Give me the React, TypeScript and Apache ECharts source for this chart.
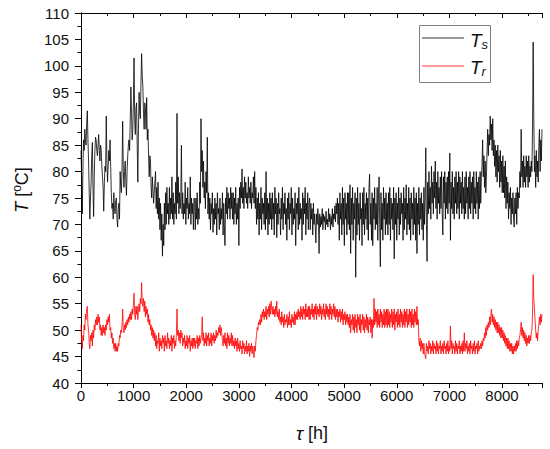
import React, { useEffect, useRef } from "react";
import * as echarts from "echarts";

// Hourly curves at a 12 h spacing (t = index * 12 h).
const STEP_H = 12;

// Supply temperature Ts, one array per month
const tsJan = [84,79,72,80,86,84,88,86,85,89,91.5,86,82,76,71,75,78,83,85.5,77,71.5,79,84,86.5,86,84,83,85,87,84,82,85,84,81,79,77,72.5,78,81,80,90.5,82,78,81,84,82,86,81,76,73,74,71,76,73,72,74.5,75,71,69.5,73,74,71];
const tsFeb = [80,77,76,81,89.5,80,77,80,82,78,75.5,80,83,85,86,84,84,96,91,86,88,93,101.5,90,87,92,93,85,78,88,95,91,90,97,102.3,98,96,91,88,93,92,88,94,86,88,83,79,83,82,77,75,79,79,74,74,78];
const tsMar = [80,73,77,72,78,71,75,69,74,67,72,64,70,66,74,69,76,70,77,72,74,70,77,71,75,72,79,71,76,70,74,72,78,71,91,74,79,72,76,73,75,85,72,76,71,74,72,78,70,75,73,77,71,74,72,79,70,75,72,74,69,75];
const tsApr = [74,69,75,71,76,70,73,71,78,74,90,80,84,77,82,75,78,73,80,76,86.5,72,76,71,75,69,74,72,76,68.5,73,70,75,71,74,68,76,72,73,69,75,70,73,71,76,68,74,70,66,75,72,77,71,76,73,75,71,77,73,76];
const tsMay = [71,76,70,75,72,77,70,74,71,75,66,77,73,78,75,80.5,74,77,73,79,75,78,74,76,73,79,75,77,74,78,73,76,75,79,74,80,73,77,70,75,71,76,68,74,71,77,69,75,72,74,70,76,69,80,71,75,68,74,70,76,71,75];
const tsJun = [69,76,71,74,68,77,72,75,67.5,74,70,76,72,73,68,75,71,77,69,74,72,76,70,73,67,75,71,76,69,74,72,77,68,75,70,73,71,76,66,74,72,75,69,77,70,74,71,73,67,76,70,75,72,77,68,74,71,76,69,74];
const tsJul = [75,69,74,71,73,68,74,70,72,69.5,66.5,72,70,73,71,64.5,72,69.5,71.5,70,73,69,72,70.5,71.5,69,72.5,70,71,69.5,73,70.5,72,69,71.5,70,73,69.5,72,71,73.5,70.5,74,72,75,70,74,67,76,71,74,68,77,70,75,66,76,71,74,68,76,70];
const tsAug = [76,69,77.5,64.5,75,70,77,67,74,71,76,60,75,68,77,70,74,67,76,71,73,66,76,70,77,68,74,71,76,69,75,67,77,79.5,70,74,67,76,66,75,71,77,69,74,70,77,67,75,79,70,62,76,69,74,67,77,71,75,68,76,70,74];
const tsSep = [68,76,70,77,67,75,71,74,69,77,63.5,75,70,76,67,74,71,77,68,75,70,76,72,74,67,77,69,75,71,77.5,68,74,70,77,69,75,67,76,71,74,68,77,70,75,67,76,64.5,74,70,77,68,75,71,76,69,74,67,77,70,75];
const tsOct = [84.5,70,63,78,72,80,73,77,71,81,74,78,72,80,75,82,73,78,71,80,74,77,72,79,73,80,72,68,79,74,80,71,78,73,79,72,80,74,83.5,67,78,73,80,72,77,71,79,74,80,72,78,73,80,71,79,74,78,72,80,73,77,71];
const tsNov = [79,72,80,74,77,71,79,73,80,72,78,74,79,71,80,73,77,72,80,74,78,71,79,73,80,74,79,81,86,79,83,77,82,76,79,84,88,83,87,85,90.5,86,89,84,90,83,86,81,85,79,84,78,85,80,83,77,84,78,82,76];
const tsDec = [83,76,81,75,82,73,79,74,78,71,76,73,77,70,75,72,76,71,69.5,75,72,76,70,77,73,76,75,80,77,88,79,82,77,83,78,81,77,83,79,82,77,83,78,81,79,82,80,88,104.5,90,80,83,77,84,79,82,78,85,88,80,86,82,88];

// Return temperature Tr, one array per month
const trJan = [51,48,46.5,49,48,51,50,53,52,54,54.5,51,50,47.5,46.5,49,48,49.5,47,50,48.5,51,50,52,51,52.5,51,53,51.5,52.5,50,51,49,50.5,49,51,49.5,50.5,49,51,50,52,51,52.5,51.5,53,50,50.5,48.5,49.5,47.5,48.5,46.5,47.5,46,47.5,46,47,46,47.5,47,49];
const trFeb = [48.5,50,49.5,51,54,50,49.5,51,50,51.5,50.5,52,51,52.5,51.5,53,52,53.5,52,54,53,55,57,53,52,54.5,53,54.5,52,54,55,53.5,56,55,59,55,54.5,56,53.5,55.5,52.5,54.5,53,54,51.5,53,51,52,50,51,49,50.5,48.5,50,48,49.5];
const trMar = [47,49,46.5,48,47.5,49.5,46,48.5,47,48,46.5,49,47.5,48.5,46,49,47,48,46.5,49.5,47.5,48.5,46.5,48,47,49,46,48.5,47.5,49,46.5,48,47,49,54,49,50,48,49.5,47.5,50,48.5,49.5,47,48.5,47.5,49,46.5,48,47,49,46.5,48.5,47.5,49,46,48,47,48.5,46.5,48.5,47];
const trApr = [48.5,46.5,48,47.5,49,46.5,48.5,47,49,47.5,48.5,49,52.5,48,49.5,47,48.5,47.5,49.5,47,49,48,49.5,47,48.5,47.5,49.5,47,49,48,49.5,47.5,49,48,50,48.5,49.5,49,50.5,49.5,51,49,50.5,49.5,48,47,49,47.5,49.5,47,48.5,46.5,49.5,47.5,49,47,48.5,47.5,49.5,47];
const trMay = [49,47,48,46.5,48.5,47,48,46,48.5,46.5,47.5,46,48,46.5,47,45.5,48,46.5,47.5,45.5,47,46,48,45.5,47,46,47.5,45,47,46,47.5,45.5,47,46,44.8,47,46,48,49,50.5,50,51.5,51,52,51,53,51.5,53.5,52.5,54,52,53.5,52.5,54.5,52,54,53,54.5,52.5,55,53,55.5];
const trJun = [55.5,53,54.5,53,54,52.5,54.5,53,55.5,52.5,53.5,52,54,51.5,52.5,51,53.5,51.5,52.5,50.5,53,51,52,51.5,53,50.5,52.5,51,53.5,51,52,50.5,53,51.5,52.5,51,53.5,51,53,52,53.5,52,54,52.5,53.5,52,54.5,52.5,54,52,54.5,53,54,52,55,52.5,54,52.5,54.5,52];
const trJul = [54.5,52,54,53,55,52.5,54,52,54.5,53,55,52,54.5,53,54,52.5,55,53,54.5,52,54,53,55,52.5,54,52,55,53,54.5,52.5,54,52,55,53,54.5,52,54,53,55,52.5,54.5,52,54,52.5,54,51.5,53.5,52.5,54,51.5,53.5,52,54,51,53,52,53.5,51,53,51.5,53,51];
const trAug = [52.5,50.5,53,49.5,52,51,53,50,52.5,49.5,53,50.5,52,49.5,53,51,52.5,50,53,49.5,52,51,53,50,52.5,49.5,52,50.5,53,50,52.5,49.5,52,51,52.5,49.5,52,48.5,52,50.5,56,51,54,51.5,53.5,50.5,54,51,53,50.5,54,51.5,53.5,50.5,53,51,54,50.5,53.5,51,54,50.5];
const trSep = [54,51,53.5,50.5,53,51.5,54,50.5,53.5,51,54,50,53,51.5,53.5,50.5,54,51,53,50.5,54,51.5,53.5,50.5,53,51,54,50.5,53.5,51.5,54,50.5,53,51,54,51.5,53.5,50.5,54,51,53,50.5,54,51.5,53.5,51,54.5,51,52,48,47,48.5,46,48,46.5,47.5,45.5,47.5,46,45];
const trOct = [44.6,47.5,46,47,45.5,48,46.5,47.5,45.5,47,46,48,45.5,47.5,46.5,47,45.5,48,46,47.5,45.5,47,46.5,48,45.5,47,46,47.5,45.5,48,46.5,47,45.5,47.5,46,48,45.5,47,46,50.8,46.5,48,45.5,47.5,46.5,47,45.5,48,46,47.5,45.5,47,46.5,48,45.5,47,46,47.5,45.5,48,46,49.5];
const trNov = [46,47.5,46.5,48,45.5,47,46,47.5,45.5,48,46.5,47,45.5,47.5,46,48,45.5,47,46.5,47.5,45.5,48,46,47,46.5,47.5,46.5,48,47,48.5,48,49.5,48.5,50.5,49,51,50,51.5,50.5,52.5,51,53,54,51.5,53,51,52.5,50.5,52,50,51.5,49.5,51.5,49.5,51,49,50.5,48.5,50.5,48.5];
const trDec = [50,48,49.5,47.5,49,47,48.5,46.5,48.5,46.5,48,46,47.5,46,47.5,45.5,47,45.5,47,46,47.5,46,48,46.5,48,47,48.5,49,50,51.5,49,50.5,48.5,50,48,49.5,47.5,49,47,48.5,47.5,49,47.5,49,48,49.5,50,53,60.5,56,54,52,50,48.5,49.5,48,50,51,52.5,51,53,51.5,53];

const X_MIN = 0;
const X_MAX = 8760;
const X_INTERVAL = 1000;
const Y_MIN = 40;
const Y_MAX = 110;
const Y_INTERVAL = 5;

const FONT = "'Liberation Sans', Arial, Helvetica, sans-serif";

function toPairs(months: number[][]): number[][] {
  const all: number[] = ([] as number[]).concat(...months);
  return all.map((v, i) => [i * STEP_H, v]);
}

export default function App() {
  const ref = useRef<HTMLDivElement>(null);

  useEffect(() => {
    document.body.style.margin = "0";
    if (!ref.current) return;
    const chart = echarts.init(ref.current, null, { renderer: "svg" });

    const tsData = toPairs([tsJan, tsFeb, tsMar, tsApr, tsMay, tsJun, tsJul, tsAug, tsSep, tsOct, tsNov, tsDec]);
    const trData = toPairs([trJan, trFeb, trMar, trApr, trMay, trJun, trJul, trAug, trSep, trOct, trNov, trDec]);

    const axisLine = { show: true, lineStyle: { color: "#000", width: 1 } };
    const tickStyle = { color: "#000", width: 1 };
    const plain = (v: number) => String(v);

    chart.setOption({
      animation: false,
      backgroundColor: "#fff",
      grid: { left: 81, top: 13, right: 8, bottom: 66, containLabel: false },
      xAxis: [
        {
          type: "value",
          position: "bottom",
          min: X_MIN,
          max: X_MAX,
          interval: X_INTERVAL,
          axisLine,
          axisTick: { show: true, inside: false, length: 5, lineStyle: tickStyle },
          minorTick: { show: true, splitNumber: 2, length: 3, lineStyle: tickStyle },
          axisLabel: { fontSize: 15, color: "#111", margin: 5, fontFamily: FONT, showMaxLabel: false, formatter: plain },
          splitLine: { show: false },
        },
        {
          type: "value",
          position: "top",
          min: X_MIN,
          max: X_MAX,
          interval: X_INTERVAL,
          axisLine,
          axisTick: { show: true, inside: true, length: 5, lineStyle: tickStyle },
          minorTick: { show: true, splitNumber: 2, length: 3, lineStyle: tickStyle },
          axisLabel: { show: false },
          splitLine: { show: false },
        },
      ],
      yAxis: [
        {
          type: "value",
          position: "left",
          min: Y_MIN,
          max: Y_MAX,
          interval: Y_INTERVAL,
          axisLine,
          axisTick: { show: true, inside: false, length: 6, lineStyle: tickStyle },
          minorTick: { show: true, splitNumber: 2, length: 3.5, lineStyle: tickStyle },
          axisLabel: { fontSize: 15, color: "#111", margin: 12, fontFamily: FONT, formatter: plain },
          splitLine: { show: false },
        },
        {
          type: "value",
          position: "right",
          min: Y_MIN,
          max: Y_MAX,
          interval: Y_INTERVAL,
          axisLine,
          axisTick: { show: true, inside: true, length: 5, lineStyle: tickStyle },
          minorTick: { show: true, splitNumber: 2, length: 3, lineStyle: tickStyle },
          axisLabel: { show: false },
          splitLine: { show: false },
        },
      ],
      series: [
        {
          name: "Ts",
          type: "line",
          xAxisIndex: 0,
          yAxisIndex: 0,
          data: tsData,
          showSymbol: false,
          symbol: "none",
          lineStyle: { color: "#000", width: 0.8 },
          itemStyle: { color: "#000" },
          z: 2,
        },
        {
          name: "Tr",
          type: "line",
          xAxisIndex: 0,
          yAxisIndex: 0,
          data: trData,
          showSymbol: false,
          symbol: "none",
          lineStyle: { color: "#ff0000", width: 0.8 },
          itemStyle: { color: "#ff0000" },
          z: 2,
        },
      ],
      graphic: [
        {
          type: "text",
          x: 22,
          y: 190,
          rotation: Math.PI / 2,
          style: {
            text: "{i|T} [{o|o}C]",
            fontSize: 18,
            fontFamily: FONT,
            fill: "#111",
            align: "center",
            verticalAlign: "middle",
            rich: {
              i: { fontSize: 18, fontStyle: "italic", fontFamily: FONT, fill: "#111", lineHeight: 22 },
              o: { fontSize: 12, fontFamily: FONT, fill: "#111", lineHeight: 12, verticalAlign: "top" },
            },
          },
        },
        {
          type: "text",
          x: 312,
          y: 433,
          style: {
            text: "{i|τ} [h]",
            fontSize: 18,
            fontFamily: FONT,
            fill: "#111",
            align: "center",
            verticalAlign: "middle",
            rich: {
              i: { fontSize: 19, fontStyle: "italic", fontFamily: FONT, fill: "#111" },
            },
          },
        },
        {
          type: "group",
          z: 10,
          children: [
            {
              type: "rect",
              shape: { x: 419.5, y: 25.5, width: 71, height: 57 },
              style: { fill: "#fff", stroke: "#808080", lineWidth: 1 },
            },
            {
              type: "line",
              shape: { x1: 422, y1: 38, x2: 464, y2: 38 },
              style: { stroke: "#000", lineWidth: 0.8 },
            },
            {
              type: "line",
              shape: { x1: 422, y1: 66, x2: 464, y2: 66 },
              style: { stroke: "#ff0000", lineWidth: 0.8 },
            },
            {
              type: "text",
              x: 470,
              y: 40,
              style: {
                text: "{t|T}{s|s}",
                align: "left",
                verticalAlign: "middle",
                fontFamily: FONT,
                fill: "#111",
                rich: {
                  t: { fontSize: 19, fontStyle: "italic", fontFamily: FONT, fill: "#111", lineHeight: 22 },
                  s: { fontSize: 13, fontStyle: "italic", fontFamily: FONT, fill: "#111", lineHeight: 13, verticalAlign: "bottom" },
                },
              },
            },
            {
              type: "text",
              x: 470,
              y: 67,
              style: {
                text: "{t|T}{s|r}",
                align: "left",
                verticalAlign: "middle",
                fontFamily: FONT,
                fill: "#111",
                rich: {
                  t: { fontSize: 19, fontStyle: "italic", fontFamily: FONT, fill: "#111", lineHeight: 22 },
                  s: { fontSize: 13, fontStyle: "italic", fontFamily: FONT, fill: "#111", lineHeight: 13, verticalAlign: "bottom" },
                },
              },
            },
          ],
        },
      ],
    });

    return () => {
      chart.dispose();
    };
  }, []);

  return <div ref={ref} style={{ width: 550, height: 449 }} />;
}
